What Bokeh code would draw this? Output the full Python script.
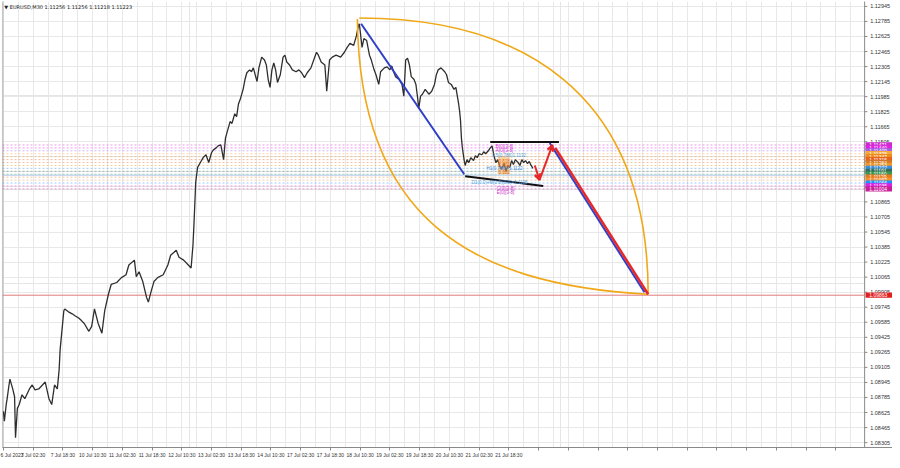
from bokeh.plotting import figure
from bokeh.models import (Range1d, LinearAxis, FixedTicker, Label, Arrow, VeeHead, Grid)
from bokeh.embed import file_html
from bokeh.resources import INLINE
from bokeh.core.properties import value

FONT = "Liberation Sans"

# ---------------- data: EURUSD M30 price path (bar index, price) ----------------
bars = [0, 1, 3, 4, 6, 7, 10, 12, 13, 15,
        17, 20, 23, 28, 31, 34, 38, 42, 45, 49,
        52, 55, 58, 60, 61, 63, 65, 66, 70, 74,
        77, 81, 84, 87, 92, 95, 98, 102, 106, 109,
        113, 116, 122, 127, 132, 135, 141, 143, 146, 150,
        154, 156, 159, 162, 166, 172, 177, 180, 186, 189,
        194, 199, 202, 204, 205, 207, 209, 212, 215, 218,
        221, 224, 226, 229, 231, 234, 237, 239, 241, 244,
        246, 249, 251, 253, 255, 258, 260, 262, 265, 267,
        269, 271, 273, 275, 278, 281, 283, 285, 287, 289,
        291, 293, 295, 298, 301, 303, 305, 308, 311, 315,
        318, 321, 324, 327, 331, 334, 337, 339, 342, 346,
        348, 351, 354, 358, 363, 367, 370, 373, 377, 380,
        382, 383, 384, 386, 388, 391, 394, 396, 399, 401,
        404, 406, 410, 413, 416, 418, 420, 422, 426, 429,
        431, 433, 435, 437, 439, 442, 444, 446, 447, 449,
        451, 454, 458, 461, 464, 466, 468, 471, 475, 477,
        479, 482, 485, 487, 490, 491, 492, 493, 494, 496,
        497, 499, 501, 503, 506, 508, 510, 512, 515, 517,
        519, 522, 524, 526, 528, 530, 532, 534, 536, 539,
        541, 543, 545, 547, 549, 551, 554, 556, 558, 560,
        562, 564, 566, 568, 570]
prices = [1.08637, 1.08534, 1.08710, 1.08772, 1.08918, 1.08980, 1.08876, 1.08793, 1.08357, 1.08669,
          1.08710, 1.08814, 1.08772, 1.08876, 1.08918, 1.08866, 1.08876, 1.08918, 1.08949, 1.08772,
          1.08710, 1.08918, 1.08876, 1.09084, 1.09291, 1.09499, 1.09707, 1.09727, 1.09696, 1.09675,
          1.09655, 1.09630, 1.09603, 1.09572, 1.09489, 1.09541, 1.09727, 1.09572, 1.09468, 1.09707,
          1.09883, 1.09987, 1.10008, 1.10060, 1.10091, 1.10194, 1.10246, 1.10070, 1.10122, 1.10018,
          1.09852, 1.09800, 1.09914, 1.10018, 1.10060, 1.10091, 1.10194, 1.10298, 1.10350, 1.10277,
          1.10246, 1.10194, 1.10163, 1.10402, 1.10610, 1.11077, 1.11232, 1.11284, 1.11336, 1.11367,
          1.11284, 1.11388, 1.11419, 1.11440, 1.11461, 1.11471, 1.11315, 1.11544, 1.11616, 1.11720,
          1.11700, 1.11803, 1.11772, 1.11907, 1.11959, 1.12063, 1.12167, 1.12239, 1.12270, 1.12250,
          1.12291, 1.12218, 1.12146, 1.12291, 1.12405, 1.12374, 1.12322, 1.12167, 1.12084, 1.12270,
          1.12343, 1.12270, 1.12136, 1.12218, 1.12405, 1.12426, 1.12353, 1.12322, 1.12270, 1.12250,
          1.12270, 1.12239, 1.12187, 1.12239, 1.12291, 1.12374, 1.12457, 1.12426, 1.12353, 1.12322,
          1.12042, 1.12374, 1.12405, 1.12426, 1.12405, 1.12457, 1.12509, 1.12551, 1.12530, 1.12634,
          1.12738, 1.12760, 1.12686, 1.12509, 1.12603, 1.12582, 1.12426, 1.12374, 1.12270, 1.12218,
          1.12115, 1.12250, 1.12291, 1.12302, 1.12270, 1.12312, 1.12250, 1.12198, 1.12167, 1.12115,
          1.11990, 1.12374, 1.12395, 1.12322, 1.12198, 1.12167, 1.12115, 1.11959, 1.11855, 1.11990,
          1.12011, 1.12063, 1.12011, 1.12042, 1.12115, 1.12218, 1.12270, 1.12291, 1.12250, 1.12218,
          1.12136, 1.12115, 1.12063, 1.12084, 1.11907, 1.11834, 1.11731, 1.11544, 1.11440, 1.11305,
          1.11253, 1.11315, 1.11284, 1.11336, 1.11305, 1.11357, 1.11336, 1.11378, 1.11367, 1.11399,
          1.11378, 1.11409, 1.11440, 1.11461, 1.11357, 1.11284, 1.11315, 1.11253, 1.11212, 1.11274,
          1.11191, 1.11253, 1.11232, 1.11305, 1.11264, 1.11315, 1.11284, 1.11253, 1.11315, 1.11284,
          1.11305, 1.11274, 1.11295, 1.11253, 1.11223]

# time axis labels (every 32 M30 bars)
x_tick_bars = [0, 32, 64, 96, 128, 160, 192, 224, 256, 288, 320, 352, 384, 416, 448, 480, 512, 544]
x_tick_labels = ["6 Jul 2023", "7 Jul 02:30", "7 Jul 18:30", "10 Jul 10:30", "11 Jul 02:30",
                 "11 Jul 18:30", "12 Jul 10:30", "13 Jul 02:30", "13 Jul 18:30", "14 Jul 10:30",
                 "17 Jul 02:30", "17 Jul 18:30", "18 Jul 10:30", "19 Jul 02:30", "19 Jul 18:30",
                 "20 Jul 10:30", "21 Jul 02:30", "21 Jul 18:30"]

# price scale ticks
y_ticks = [1.12945, 1.12785, 1.12625, 1.12465, 1.12305, 1.12145, 1.11985, 1.11825, 1.11665,
           1.11505, 1.11345, 1.11185, 1.11025, 1.10865, 1.10705, 1.10545, 1.10385, 1.10225,
           1.10065, 1.09905, 1.09745, 1.09585, 1.09425, 1.09265, 1.09105, 1.08945, 1.08785,
           1.08625, 1.08465, 1.08305]
y_hidden = [1.11345, 1.11185, 1.11025]

# horizontal levels with their right-side price tags
level_prices = [1.11471, 1.11440, 1.11409, 1.11378, 1.11347, 1.11315, 1.11284, 1.11253,
                1.11222, 1.11191, 1.11160, 1.11129, 1.11097, 1.11066, 1.11035, 1.11004]
level_colors = ["#cc2ccc", "#e020e0", "#a060e0", "#f5a83a", "#f08c1e", "#e8641e", "#d27828",
                "#f09628", "#3c8cdc", "#2e6e5a", "#3c9650", "#e8781e", "#f09030", "#1e90ff",
                "#e020e0", "#c8209a"]
target_price = 1.09873
target_tag = "1.09863"

# drawn objects (bar, price)
blue1_bars, blue1_prices = [385, 496], [1.12760, 1.11160]
blue2_bars, blue2_prices = [588, 690], [1.11492, 1.09904]
red_zig_bars, red_zig_prices = [572, 577, 591], [1.11253, 1.11098, 1.11471]
red_main_bars, red_main_prices = [594, 694], [1.11440, 1.09883]
black_top_bars, black_top_prices = [524, 598], [1.11502, 1.11502]
black_bot_bars, black_bot_prices = [497, 581], [1.11139, 1.11035]
# orange arcs: start, control1, control2, end
arc_top = [(383, 1.12821), (554, 1.12821), (694, 1.12063), (694, 1.09883)]
arc_bot = [(381, 1.12810), (383, 1.10713), (500, 1.09987), (694, 1.09883)]

SCALE_BAR = 927      # where the price scale begins
X_END = 957
Y_LO, Y_HI = 1.08253, 1.12997

# ---------------- figure ----------------
p = figure(width=892, height=460, x_range=Range1d(-1, X_END), y_range=Range1d(Y_LO, Y_HI),
           output_backend="svg", toolbar_location=None,
           x_axis_location=None, y_axis_location=None,
           min_border_left=2, min_border_top=1, min_border_right=0, min_border_bottom=11)
p.background_fill_color = "white"
p.border_fill_color = "white"
p.outline_line_color = None

# time axis
xaxis = LinearAxis(ticker=FixedTicker(ticks=list(range(0, 928, 32))))
xaxis.major_label_overrides = {b: "" for b in range(0, 928, 32)}
xaxis.major_label_overrides.update({b: l for b, l in zip(x_tick_bars, x_tick_labels)})
xaxis.axis_line_color = "#8a8a8a"
xaxis.major_tick_line_color = "#8a8a8a"
xaxis.major_tick_out = 3
xaxis.major_tick_in = 0
xaxis.minor_tick_out = 0
xaxis.minor_tick_in = 0
xaxis.major_label_text_font = FONT
xaxis.major_label_text_font_size = "5px"
xaxis.major_label_text_color = "#333333"
xaxis.major_label_standoff = 1
xaxis.major_label_text_align = "left"
p.add_layout(xaxis, "below")

p.add_layout(Grid(dimension=0, ticker=FixedTicker(ticks=list(range(0, 928, 16))),
                  grid_line_color="#e8e8e8", grid_line_width=1))
p.add_layout(Grid(dimension=1, ticker=FixedTicker(ticks=y_ticks),
                  grid_line_color="#e8e8e8", grid_line_width=1))

# blank price-scale strip
p.quad(left=[SCALE_BAR], right=[X_END + 2], bottom=[Y_LO - 0.001], top=[Y_HI + 0.001],
       fill_color="white", line_color=None)
# borders
p.segment(x0=[SCALE_BAR], x1=[SCALE_BAR], y0=[Y_LO - 0.001], y1=[Y_HI + 0.001],
          line_color="#8a8a8a", line_width=1)
p.segment(x0=[-1], x1=[-1], y0=[Y_LO - 0.001], y1=[Y_HI + 0.001],
          line_color="#8a8a8a", line_width=1.5)

# dotted levels
n_lv = len(level_prices)
p.segment(x0=[-1] * n_lv, x1=[SCALE_BAR] * n_lv, y0=level_prices, y1=level_prices,
          line_color=level_colors, line_alpha=0.45, line_dash="2 2", line_width=1)
p.segment(x0=[-1], x1=[SCALE_BAR], y0=[1.11150], y1=[1.11150], line_color="#a9c6e6", line_width=1)
p.segment(x0=[-1], x1=[SCALE_BAR], y0=[target_price], y1=[target_price],
          line_color="#e07a7a", line_width=1)

# price path
p.line(bars, prices, line_color="#2e2e2e", line_width=1.3)

# orange arcs
for arc in (arc_top, arc_bot):
    p.bezier(x0=[arc[0][0]], y0=[arc[0][1]], x1=[arc[3][0]], y1=[arc[3][1]],
             cx0=[arc[1][0]], cy0=[arc[1][1]], cx1=[arc[2][0]], cy1=[arc[2][1]],
             line_color="#f0a818", line_width=1.6)

# pattern box (orange)
p.quad(left=[532], right=[545], top=[1.11357], bottom=[1.11160],
       fill_color="#f5a040", fill_alpha=0.45, line_color=None)

# lines
p.line(blue1_bars, blue1_prices, line_color="#2f3fc8", line_width=2)
p.line(blue2_bars, blue2_prices, line_color="#2f3fc8", line_width=2)
p.line(black_top_bars, black_top_prices, line_color="#111111", line_width=2)
p.line(black_bot_bars, black_bot_prices, line_color="#111111", line_width=2)
p.line(red_main_bars, red_main_prices, line_color="#e82828", line_width=2.5)
for i in range(len(red_zig_bars) - 1):
    p.add_layout(Arrow(end=VeeHead(size=6, line_color="#e82828", line_width=2, fill_color=None),
                       x_start=red_zig_bars[i], y_start=red_zig_prices[i],
                       x_end=red_zig_bars[i + 1], y_end=red_zig_prices[i + 1],
                       line_color="#e82828", line_width=2))

# pattern annotations (small texts)
notes = [
    (530, 1.11455, "B(0)[3-8]", "#cc33cc"),
    (530, 1.11412, "A(0)[3-8]", "#cc33cc"),
    (526, 1.11360, "0.5(0.786)1.1132", "#4a9fe0"),
    (533, 1.11300, "0.618", "#e07020"),
    (533, 1.11260, "0.500", "#e07020"),
    (520, 1.11222, "H1(0.786)=1.1122", "#3a86d8"),
    (533, 1.11185, "0.382", "#e07020"),
    (504, 1.11068, "D1(0.0)+M(0.0)(0.0)=1.1105", "#4a9fe0"),
    (531, 1.11010, "C(0)[3-8]", "#cc33cc"),
    (531, 1.10968, "E(0)[3-8]", "#cc33cc"),
]
for nx, ny, nt, nc in notes:
    p.text(x=[nx], y=[ny], text=[nt], text_color=nc, text_font=value(FONT),
           text_font_size="4.5px", text_baseline="middle", text_align="left")

# price scale: ticks and labels
shown = [t for t in y_ticks if t not in y_hidden]
p.segment(x0=[SCALE_BAR] * len(y_ticks), x1=[SCALE_BAR + 3] * len(y_ticks), y0=y_ticks, y1=y_ticks,
          line_color="#8a8a8a", line_width=1)
p.text(x=[SCALE_BAR + 6] * len(shown), y=shown, text=[f"{t:.5f}" for t in shown],
       text_color="#333333", text_font=value(FONT), text_font_size="5.5px",
       text_baseline="middle", text_align="left")

# right-side price tags
TAG_H = 0.00028
for lp, lc in zip(level_prices + [target_price], level_colors + ["#e02020"]):
    p.quad(left=[SCALE_BAR + 1], right=[X_END + 2], bottom=[lp - TAG_H], top=[lp + TAG_H],
           fill_color=lc, line_color=None)
    p.text(x=[SCALE_BAR + 5], y=[lp], text=[target_tag if lp == target_price else f"{lp:.5f}"],
           text_color="white", text_font=value(FONT), text_font_size="5px",
           text_baseline="middle", text_align="left")

# title
p.add_layout(Label(x=1, y=1.12940, text="▼ EURUSD,M30  1.11256 1.11256 1.11218 1.11223",
                   text_font="DejaVu Sans", text_font_size="5px", text_color="#222222",
                   text_baseline="middle", text_align="left"))

open("out.html", "w").write(file_html(p, INLINE))
